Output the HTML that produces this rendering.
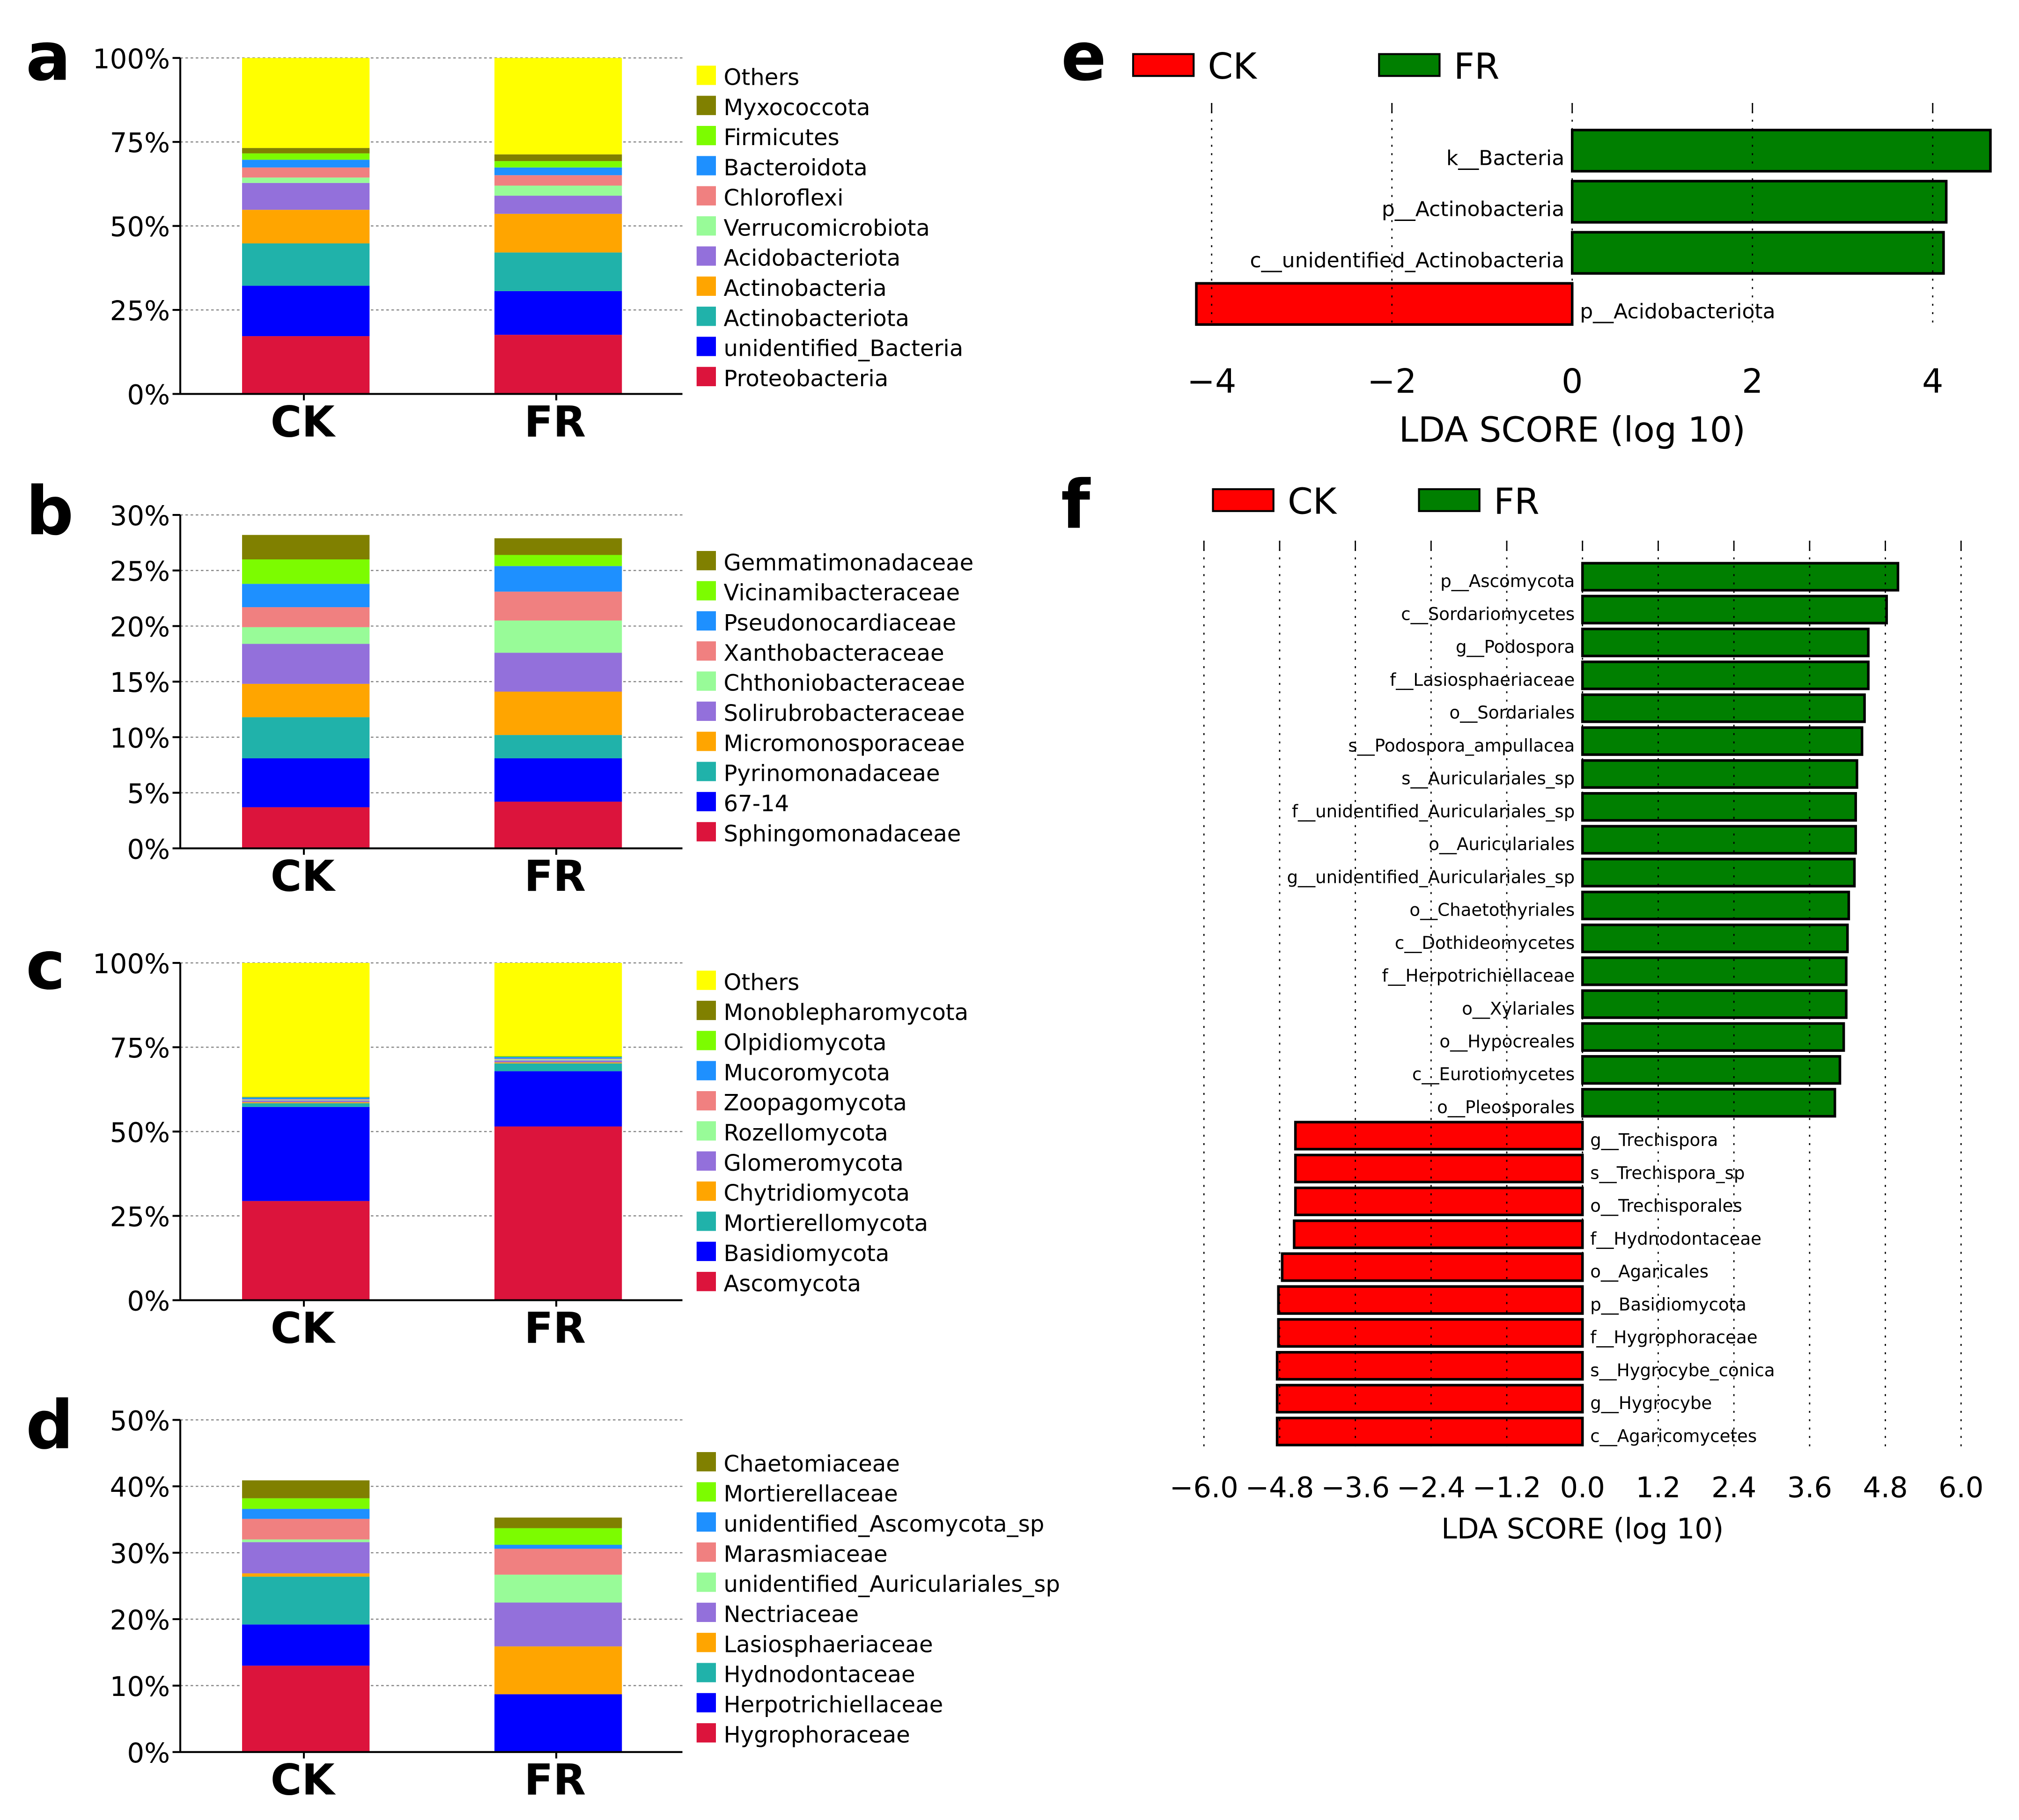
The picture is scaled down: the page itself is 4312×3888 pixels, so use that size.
<!DOCTYPE html>
<html><head><meta charset="utf-8">
<style>
html,body{margin:0;padding:0;background:#fff;}
svg{display:block;}
text{font-family:"DejaVu Sans","Liberation Sans",sans-serif;}
</style></head>
<body>
<svg id="fig" width="4312" height="3888" viewBox="0 0 1568 1413.8" xmlns="http://www.w3.org/2000/svg"></svg>
<script>
// ---- Panel a data ----
const aNames = ["Proteobacteria","unidentified_Bacteria","Actinobacteriota","Actinobacteria","Acidobacteriota","Verrucomicrobiota","Chloroflexi","Bacteroidota","Firmicutes","Myxococcota","Others"];
const aCK = [17.2,15,12.6,10,8,1.6,3,2.3,1.9,1.6,26.8];
const aFR = [17.6,13,11.5,11.5,5.4,3,3.1,2.3,1.9,2,28.7];
const aTicks = ["0%","25%","50%","75%","100%"];
// ---- Panel b data ----
const bNames = ["Sphingomonadaceae","67-14","Pyrinomonadaceae","Micromonosporaceae","Solirubrobacteraceae","Chthoniobacteraceae","Xanthobacteraceae","Pseudonocardiaceae","Vicinamibacteraceae","Gemmatimonadaceae"];
const bCK = [3.7,4.4,3.7,3,3.6,1.5,1.8,2.1,2.2,2.2];
const bFR = [4.2,3.9,2.1,3.9,3.5,2.9,2.6,2.3,1,1.5];
const bTicks = ["0%","5%","10%","15%","20%","25%","30%"];
// ---- Panel c data ----
const cNames = ["Ascomycota","Basidiomycota","Mortierellomycota","Chytridiomycota","Glomeromycota","Rozellomycota","Zoopagomycota","Mucoromycota","Olpidiomycota","Monoblepharomycota","Others"];
const cCK = [29.4,27.9,1.1,0.3,0.5,0.2,0.2,0.5,0.1,0.1,39.7];
const cFR = [51.5,16.4,2.3,0.3,0.6,0.3,0.2,0.5,0.2,0.1,27.6];
const cTicks = ["0%","25%","50%","75%","100%"];
// ---- Panel d data ----
const dNames = ["Hygrophoraceae","Herpotrichiellaceae","Hydnodontaceae","Lasiosphaeriaceae","Nectriaceae","unidentified_Auriculariales_sp","Marasmiaceae","unidentified_Ascomycota_sp","Mortierellaceae","Chaetomiaceae"];
const dCK = [13,6.2,7.2,0.5,4.7,0.4,3.1,1.5,1.6,2.7];
const dFR = [0.1,8.6,0,7.2,6.6,4.2,3.9,0.6,2.5,1.6];
const dTicks = ["0%","10%","20%","30%","40%","50%"];
// ---- Panel e data ----
const eLabels = ["k__Bacteria","p__Actinobacteria","c__unidentified_Actinobacteria","p__Acidobacteriota"];
const eScores = [4.64,4.15,4.12,-4.17];
const eTicks = ["\u22124","\u22122","0","2","4"];
const eTickVals = [-4,-2,0,2,4];
// ---- Panel f data ----
const fLabels = ["p__Ascomycota","c__Sordariomycetes","g__Podospora","f__Lasiosphaeriaceae","o__Sordariales","s__Podospora_ampullacea","s__Auriculariales_sp","f__unidentified_Auriculariales_sp","o__Auriculariales","g__unidentified_Auriculariales_sp","o__Chaetothyriales","c__Dothideomycetes","f__Herpotrichiellaceae","o__Xylariales","o__Hypocreales","c__Eurotiomycetes","o__Pleosporales","g__Trechispora","s__Trechispora_sp","o__Trechisporales","f__Hydnodontaceae","o__Agaricales","p__Basidiomycota","f__Hygrophoraceae","s__Hygrocybe_conica","g__Hygrocybe","c__Agaricomycetes"];
const fScores = [5.0,4.82,4.53,4.53,4.47,4.43,4.35,4.33,4.33,4.31,4.22,4.2,4.18,4.18,4.14,4.08,4.0,-4.55,-4.55,-4.55,-4.57,-4.76,-4.82,-4.82,-4.84,-4.84,-4.84];
const fTicks = ["\u22126.0","\u22124.8","\u22123.6","\u22122.4","\u22121.2","0.0","1.2","2.4","3.6","4.8","6.0"];
const fTickVals = [-6,-4.8,-3.6,-2.4,-1.2,0,1.2,2.4,3.6,4.8,6];

const COLORS11 = ["#dc143c","#0000ff","#20b2aa","#ffa500","#9370db","#98fb98","#f08080","#1e90ff","#7cfc00","#808000","#ffff00"];
const NS = "http://www.w3.org/2000/svg";
const svg = document.getElementById("fig");
function mk(tag, attrs, parent){
  const e = document.createElementNS(NS, tag);
  for (const k in attrs) e.setAttribute(k, attrs[k]);
  (parent||svg).appendChild(e);
  return e;
}
function txt(s, attrs, parent){ const t = mk("text", attrs, parent); t.textContent = s; return t; }

function panelLetter(ch, x, y){
  const t = txt(ch, {x:x, y:y, "font-size":52, "font-weight":"bold", "font-family":"Liberation Sans, sans-serif"});
  
  
}

function stackPanel(id, names, ck, fr, ticks, maxV, yTop, yBot, legTop){
  const g = mk("g", {});
  
  
  const y = v => yBot - v / maxV * (yBot - yTop);
  ticks.forEach((lab, i) => {
    const v = i * maxV / (ticks.length - 1);
    const yy = y(v);
    if (i > 0) {
      const gl = mk("line", {x1:140, x2:530, y1:yy, y2:yy, stroke:"#888", "stroke-width":0.9, "stroke-dasharray":"2,2"}, g);
      
      
    }
    const tk = mk("line", {x1:134, x2:140, y1:yy, y2:yy, stroke:"#000", "stroke-width":1.5}, g);
    
    
    const tl = txt(lab, {x:132, y:yy + 8, "font-size":21, "text-anchor":"end"}, g);
    
    
  });
  [[ck, 188, "CK"], [fr, 384, "FR"]].forEach(([vals, x0, cat]) => {
    let acc = 0;
    vals.forEach((v, i) => {
      const r = mk("rect", {x:x0, width:99, y:y(acc + v), height:Math.max(0, y(acc) - y(acc + v)), fill:COLORS11[i]}, g);
      
      
      acc += v;
    });
    const cl = txt(cat, {x:x0 + 47, y:yBot + 33, "font-size":33, "font-weight":"bold", "text-anchor":"middle", "font-family":"DejaVu Sans, sans-serif"}, g);
    
    
  });
  const ax = mk("line", {x1:140, x2:140, y1:yTop, y2:yBot, stroke:"#000", "stroke-width":1.5}, g);
  
  
  const bx = mk("line", {x1:140, x2:530, y1:yBot, y2:yBot, stroke:"#000", "stroke-width":1.5}, g);
  
  
  [236, 432].forEach(xx => {
    const xt = mk("line", {x1:xx, x2:xx, y1:yBot, y2:yBot + 5, stroke:"#000", "stroke-width":1.5}, g);
    
    
  });
  const n = names.length;
  for (let k = 0; k < n; k++) {
    const i = n - 1 - k;
    const yy = legTop + k * 23.4;
    const sw = mk("rect", {x:541, y:yy - 8, width:15, height:15, fill:COLORS11[i]}, g);
    
    
    const lt = txt(names[i], {x:562, y:yy + 7, "font-size":17.5}, g);
    
    
  }
}

function ldaPanel(id, labels, scores, tickLabs, tickVals, x0, ppu, yTop, yBot, rowY0, rowStep, barH, fs, tickY, tickFs, titleY, titleFs, legY, legX){
  const g = mk("g", {});
  
  
  const x = v => x0 + v * ppu;
  [["CK","#ff0000",legX[0]],["FR","#007f00",legX[1]]].forEach(([lab,col,lx]) => {
    const r = mk("rect", {x:lx, y:legY - 9, width:47, height:17, fill:col, stroke:"#000", "stroke-width":1.5}, g);
    
    
    const t = txt(lab, {x:lx + 58, y:legY + 10, "font-size":28}, g);
    
    
  });
  scores.forEach((s, i) => {
    const cy = rowY0 + i * rowStep;
    const pos = s >= 0;
    const r = mk("rect", {x:pos ? x(0) : x(s), y:cy - barH/2, width:Math.abs(x(s) - x(0)), height:barH, fill:pos ? "#007f00" : "#ff0000", stroke:"#000", "stroke-width":2}, g);
    
    
    const t = txt(labels[i], {x:pos ? x(0) - 6 : x(0) + 6, y:cy + fs*0.45 + (id === "e" ? 4 : 2), "font-size":fs, "text-anchor":pos ? "end" : "start"}, g);
    
    
  });
  tickVals.forEach((v, i) => {
    const gl = mk("line", {x1:x(v), x2:x(v), y1:yTop, y2:yBot, stroke:"#000", "stroke-width":1, "stroke-dasharray":"1.5,5"}, g);
    
    
    const tk = mk("line", {x1:x(v), x2:x(v), y1:yTop, y2:yTop + 8, stroke:"#000", "stroke-width":1}, g);
    
    
    const tl = txt(tickLabs[i], {x:x(v), y:tickY, "font-size":tickFs, "text-anchor":"middle"}, g);
    
    
  });
  const tt = txt("LDA SCORE (log 10)", {x:x(0), y:titleY, "font-size":titleFs, "text-anchor":"middle"}, g);
  
  
}

panelLetter("a", 20, 62);
panelLetter("b", 20, 415);
panelLetter("c", 20, 768);
panelLetter("d", 20, 1125);
panelLetter("e", 824, 62);
panelLetter("f", 824, 410);

stackPanel("a", aNames, aCK, aFR, aTicks, 100, 45, 306, 59);
stackPanel("b", bNames, bCK, bFR, bTicks, 30, 400, 659, 436);
stackPanel("c", cNames, cCK, cFR, cTicks, 100, 748, 1010, 762);
stackPanel("d", dNames, dCK, dFR, dTicks, 50, 1103, 1361, 1136);

ldaPanel("e", eLabels, eScores, eTicks, eTickVals, 1221, 70, 80, 255, 117, 39.7, 32, 16, 305, 26, 343, 27, 51, [880, 1071]);
ldaPanel("f", fLabels, fScores, fTicks, fTickVals, 1229, 49, 420, 1125, 448, 25.54, 21, 13.5, 1163, 22, 1195, 22, 389, [942, 1102]);
</script>
</body></html>
